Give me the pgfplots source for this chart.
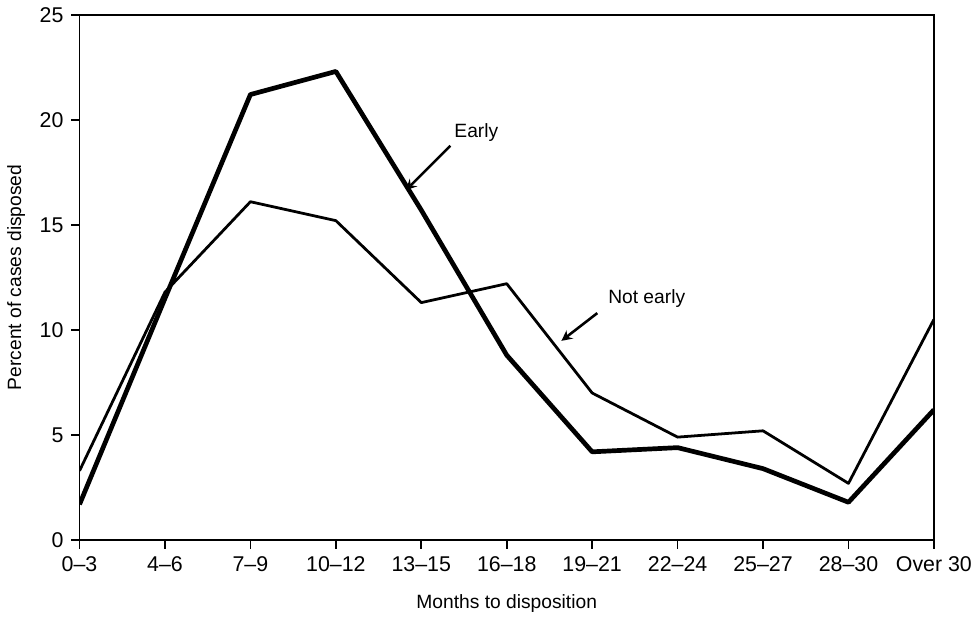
\documentclass[border=0pt]{standalone}
\usepackage{pgfplots}
\pgfplotsset{compat=1.18}
\usepackage{fontspec}
\setmainfont{Liberation Sans}
\begin{document}
\begin{tikzpicture}
\begin{axis}[
  scale only axis, width=400pt, height=246pt,
  xmin=0, xmax=10, ymin=0, ymax=25,
  xtick={0,...,10},
  xticklabels={0--3,4--6,7--9,10--12,13--15,16--18,19--21,22--24,25--27,28--30,Over 30},
  ytick={0,5,10,15,20,25},
  tick align=outside, tick style={black, thick}, major tick length=4pt,
  xtick pos=bottom, ytick pos=left,
  axis line style={thick},
  /pgf/number format/assume math mode=true,
  ticklabel style={font=\normalsize},
  xlabel={Months to disposition}, ylabel={Percent of cases disposed},
  label style={font=\small},
  xlabel style={yshift=-4pt},
]
\addplot[black, line width=2.2pt, line join=round] coordinates {
(0,1.7)(1,11.5)(2,21.2)(3,22.3)(4,15.7)(5,8.8)(6,4.2)(7,4.4)(8,3.4)(9,1.8)(10,6.2)};
\addplot[black, line width=1.3pt, line join=round] coordinates {
(0,3.3)(1,11.8)(2,16.1)(3,15.2)(4,11.3)(5,12.2)(6,7.0)(7,4.9)(8,5.2)(9,2.7)(10,10.5)};
\draw[-stealth, line width=1.2pt] (axis cs:4.34,18.76) -- (axis cs:3.82,16.65);
\node[anchor=west, font=\small] at (axis cs:4.3,19.4) {Early};
\draw[-stealth, line width=1.2pt] (axis cs:6.06,10.8) -- (axis cs:5.64,9.48);
\node[anchor=west, font=\small] at (axis cs:6.1,11.5) {Not early};
\end{axis}
\end{tikzpicture}
\end{document}
